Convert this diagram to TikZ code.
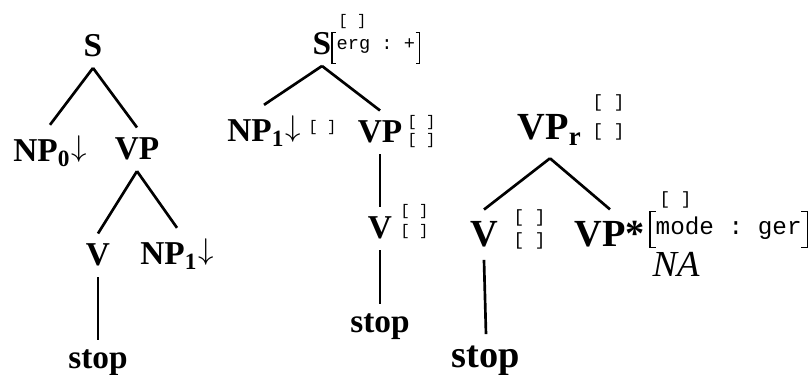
\documentclass[tikz,border=0pt]{standalone}
\usepackage{fontspec}
\setmainfont{Liberation Serif}
\setmonofont{Liberation Mono}

\newcommand{\emptyfs}{[\ ]}
\newcommand{\fspair}[1]{\vbox{\baselineskip=#1\lineskiplimit=-100pt\hbox{\emptyfs}\hbox{\emptyfs}}}
\newcommand{\subst}{\raisebox{1.7pt}{\fontsize{8.8}{10}\selectfont$\downarrow$}}
\newcommand{\fsbrackets}[2]{%
	\draw [fsline] ([xshift=#2]#1.north west) -- (#1.north west) -- (#1.south west) -- ([xshift=#2]#1.south west);
	\draw [fsline] ([xshift=-#2]#1.north east) -- (#1.north east) -- (#1.south east) -- ([xshift=-#2]#1.south east);}

\tikzset{
	cat/.style={font=\fontsize{10}{12}\selectfont\bfseries, inner xsep=1pt, inner ysep=3pt, anchor=base},
	bigcat/.style={font=\fontsize{11.5}{13}\selectfont\bfseries, inner xsep=1pt, inner ysep=3.5pt, anchor=base},
	fs/.style={font=\fontsize{4.6}{5}\selectfont\ttfamily, inner sep=0pt, anchor=base west},
	bigfs/.style={font=\fontsize{5.3}{6}\selectfont\ttfamily, inner sep=0pt, anchor=base west},
	fsline/.style={line width=0.45pt},
	branch/.style={line width=0.8pt}
}

\begin{document}
\begin{tikzpicture}[x=0.3pt, y=-0.3pt]
	\useasboundingbox (0,0) rectangle (809,375);

	% initial tree
	\node [cat] (t1s) at (93,57) {S};
	\node [cat] (t1np) at (50,162) {NP\textsubscript{0}\subst};
	\node [cat] (t1vp) at (137,160) {VP};
	\node [cat] (t1v) at (98,266) {V};
	\node [cat] (t1npb) at (177,265) {NP\textsubscript{1}\subst};
	\node [cat] (t1stop) at (98,369) {stop};

	\draw [branch] (t1s.south) -- (t1np.north);
	\draw [branch] (t1s.south) -- (t1vp.north);
	\draw [branch] (t1vp.south) -- (t1v.north);
	\draw [branch] (t1vp.south) -- (t1npb.north);
	\draw [branch] (t1v.south) -- (t1stop.north);

	% same tree with feature structures
	\node [cat] (t2s) at (322,55) {S};
	\node [fs] (t2stop) at (338,26) {\emptyfs};
	\node [fs, font=\fontsize{5.6}{6.5}\selectfont\ttfamily, inner xsep=1.2pt,
		text height=5.1pt, text depth=3.9pt] (t2sbot) at (332,50) {erg : +};
	\fsbrackets{t2sbot}{1.2pt}
	\node [cat] (t2np) at (264,142) {NP\textsubscript{1}\subst};
	\node [fs] (t2npfs) at (308,132) {\emptyfs};
	\node [cat] (t2vp) at (380,143) {VP};
	\node [fs] (t2vpfs) at (407,145) {\fspair{5.6pt}};
	\node [cat] (t2v) at (380,239) {V};
	\node [fs] (t2vfs) at (400,236) {\fspair{6pt}};
	\node [cat] (t2word) at (380,333) {stop};

	\draw [branch] (t2s.south) -- (t2np.north);
	\draw [branch] (t2s.south) -- (t2vp.north);
	\draw [branch] (t2vp.south) -- (t2v.north);
	\draw [branch] (t2v.south) -- (t2word.north);

	% auxiliary tree
	\node [bigcat] (t3vp) at (550,140) {VP\textsubscript{r}};
	\node [bigfs] (t3vpfs) at (592,137) {\fspair{8.7pt}};
	\node [bigcat] (t3v) at (484,247) {V};
	\node [bigfs] (t3vfs) at (513,246) {\fspair{7pt}};
	\node [bigcat] (t3foot) at (610,247) {VP*};
	\node [bigfs] (t3foottop) at (659,205) {\emptyfs};
	\node [bigfs, font=\fontsize{7.3}{9}\selectfont\ttfamily, inner xsep=1.5pt,
		text height=6.9pt, text depth=3.6pt] (t3footbot) at (650,235) {mode : ger};
	\fsbrackets{t3footbot}{1.8pt}
	\node [font=\fontsize{11}{13}\selectfont\itshape, inner sep=0pt, anchor=base west] (t3na) at (652,277) {NA};
	\node [bigcat] (t3word) at (486,368) {stop};

	\draw [branch] (t3vp.south) -- (t3v.north);
	\draw [branch] (t3vp.south) -- (t3foot.north);
	\draw [branch] (t3v.south) -- (t3word.north);
\end{tikzpicture}
\end{document}
